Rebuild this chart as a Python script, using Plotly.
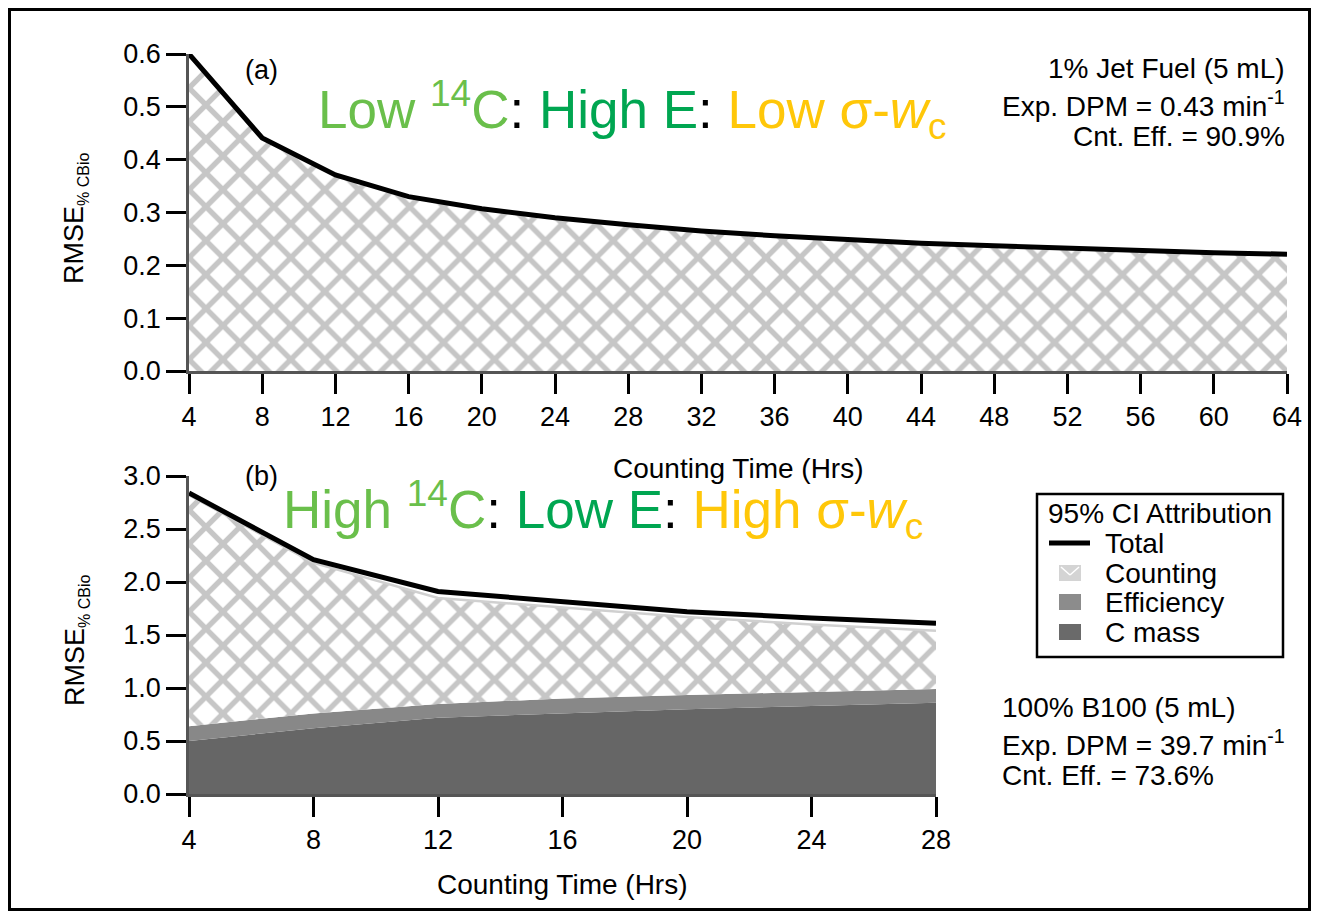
import plotly.graph_objects as go

# ---------------- data ----------------
hours_a = [4, 8, 12, 16, 20, 24, 28, 32, 36, 40, 44, 48, 52, 56, 60, 64]
total_a = [0.600, 0.441, 0.371, 0.330, 0.307, 0.290, 0.277, 0.265, 0.256, 0.248,
           0.242, 0.237, 0.232, 0.228, 0.224, 0.221]
counting_a = [0.598, 0.439, 0.369, 0.328, 0.305, 0.288, 0.275, 0.263, 0.254, 0.246,
              0.240, 0.235, 0.230, 0.226, 0.222, 0.219]

hours_b = [4, 8, 12, 16, 20, 24, 28]
total_b = [2.84, 2.21, 1.91, 1.81, 1.72, 1.66, 1.61]
cmass_b = [0.50, 0.62, 0.72, 0.76, 0.80, 0.83, 0.86]
efficiency_b = [0.14, 0.14, 0.13, 0.14, 0.135, 0.135, 0.13]
counting_b = [2.18, 1.42, 1.00, 0.86, 0.735, 0.635, 0.55]

xticks_a = list(range(4, 65, 4))
xticks_b = list(range(4, 29, 4))
yticks_a = [0.0, 0.1, 0.2, 0.3, 0.4, 0.5, 0.6]
yticks_b = [0.0, 0.5, 1.0, 1.5, 2.0, 2.5, 3.0]

legend_title = "95% CI Attribution"
legend_names = ["Total", "Counting", "Efficiency", "C mass"]

# ---------------- layout helpers ----------------
# the page body has an 8 px margin, so the figure is drawn 8 px in from the window
OFF = 8
W, H = 1319 - OFF, 913 - OFF
def px(x):
    return (x - OFF) / W
def py(y):
    return 1 - (y - OFF) / H

FONT = "Liberation Sans, Arial, Helvetica, sans-serif"
HATCH = dict(shape="x", fgcolor="#c6c6c6", bgcolor="white", size=24, solidity=0.4)
C_EFF = "#888888"
C_MASS = "#666666"

fig = go.Figure()

# panel (a)
fig.add_trace(go.Scatter(x=hours_a, y=counting_a, mode="lines", fill="tozeroy",
                         line=dict(width=0, color="#c8c8c8"), fillcolor="white",
                         fillpattern=HATCH, showlegend=False, hoverinfo="skip",
                         xaxis="x", yaxis="y"))
fig.add_trace(go.Scatter(x=hours_a, y=total_a, mode="lines",
                         line=dict(width=5, color="black"), showlegend=False,
                         xaxis="x", yaxis="y"))

# panel (b)
fig.add_trace(go.Scatter(x=hours_b, y=cmass_b, mode="lines", stackgroup="b",
                         line=dict(width=0, color=C_MASS), fillcolor=C_MASS,
                         name=legend_names[3], showlegend=False, xaxis="x2", yaxis="y2"))
fig.add_trace(go.Scatter(x=hours_b, y=efficiency_b, mode="lines", stackgroup="b",
                         line=dict(width=0, color=C_EFF), fillcolor=C_EFF,
                         name=legend_names[2], showlegend=False, xaxis="x2", yaxis="y2"))
fig.add_trace(go.Scatter(x=hours_b, y=counting_b, mode="lines", stackgroup="b",
                         line=dict(width=2.5, color="#d0d0d0"), fillcolor="white",
                         fillpattern=HATCH, name=legend_names[1], showlegend=False,
                         xaxis="x2", yaxis="y2"))
fig.add_trace(go.Scatter(x=hours_b, y=total_b, mode="lines",
                         line=dict(width=5, color="black"), name=legend_names[0],
                         showlegend=False, xaxis="x2", yaxis="y2"))

axis_common = dict(showgrid=False, zeroline=False, showline=True, linecolor="#555555",
                   linewidth=2.5, ticks="outside", ticklen=20, tickwidth=2.5,
                   tickcolor="black", automargin=False,
                   tickfont=dict(family=FONT, size=27, color="black"))

fig.update_layout(
    template="none",
    width=W, height=H,
    margin=dict(l=0, r=0, t=0, b=0, pad=0, autoexpand=False),
    paper_bgcolor="white", plot_bgcolor="white",
    showlegend=False,
    font=dict(family=FONT, color="black"),
    xaxis=dict(domain=[px(189), px(1287)], range=[4, 64], tickvals=xticks_a,
               anchor="y", **axis_common),
    yaxis=dict(domain=[py(371), py(54)], range=[0, 0.6], tickvals=yticks_a,
               tickformat=".1f", anchor="x", **axis_common),
    xaxis2=dict(domain=[px(189), px(936)], range=[4, 28], tickvals=xticks_b,
                anchor="y2", **axis_common),
    yaxis2=dict(domain=[py(794), py(476)], range=[0, 3.0], tickvals=yticks_b,
                tickformat=".1f", anchor="x2", **axis_common),
)

ann = []
def text(x, y, t, size=27, xanchor="center", yanchor="middle", angle=0, color="black"):
    ann.append(dict(x=px(x), y=py(y), xref="paper", yref="paper", text=t,
                    showarrow=False, xanchor=xanchor, yanchor=yanchor, textangle=angle,
                    font=dict(family=FONT, size=size, color=color)))

# axis titles
text(738, 468, "Counting Time (Hrs)", 28)
text(562, 884, "Counting Time (Hrs)", 28)
ytitle = "RMSE<sub><span style='font-size:16px'>% CBio</span></sub>"
text(76, 219, ytitle, 27, angle=-90)
text(76, 641, ytitle, 27, angle=-90)

# panel labels
text(262, 70, "(a)", 27)
text(262, 476, "(b)", 27)

G1, G2, Y = "#6abf4b", "#00a651", "#ffc709"
big_a = (f"<span style='color:{G1}'>Low <sup>14</sup>C</span>: "
         f"<span style='color:{G2}'>High E</span>: "
         f"<span style='color:{Y}'>Low σ-<i>w</i><sub>c</sub></span>")
big_b = (f"<span style='color:{G1}'>High <sup>14</sup>C</span>: "
         f"<span style='color:{G2}'>Low E</span>: "
         f"<span style='color:{Y}'>High σ-<i>w</i><sub>c</sub></span>")
text(316, 110, big_a, 53, xanchor="left")
text(281, 510, big_b, 53, xanchor="left")

# sample info
text(1287, 68, "1% Jet Fuel (5 mL)", 28, xanchor="right")
text(1287, 104, "Exp. DPM = 0.43 min<sup>-1</sup>", 28, xanchor="right")
text(1287, 136, "Cnt. Eff. = 90.9%", 28, xanchor="right")
text(1000, 707, "100% B100 (5 mL)", 28, xanchor="left")
text(1000, 743, "Exp. DPM = 39.7 min<sup>-1</sup>", 28, xanchor="left")
text(1000, 775, "Cnt. Eff. = 73.6%", 28, xanchor="left")

# manual legend
text(1046, 513, legend_title, 28, xanchor="left")
rows = [543, 573, 602, 632]
for name, yy in zip(legend_names, rows):
    text(1103, yy, name, 28, xanchor="left")

shapes = []
def rect(x0, y0, x1, y1, fill=None, lc="black", lw=0):
    shapes.append(dict(type="rect", xref="paper", yref="paper", x0=px(x0), x1=px(x1),
                       y0=py(y1), y1=py(y0), fillcolor=fill or "rgba(0,0,0,0)",
                       line=dict(color=lc, width=lw), layer="above"))
def line(x0, y0, x1, y1, color, w):
    shapes.append(dict(type="line", xref="paper", yref="paper", x0=px(x0), x1=px(x1),
                       y0=py(y0), y1=py(y1), line=dict(color=color, width=w), layer="above"))

rect(1037, 494, 1283, 657, lc="black", lw=2.5)
line(1049, rows[0], 1090, rows[0], "black", 5)
rect(1059, rows[1] - 8, 1081, rows[1] + 8, fill="#d4d4d4", lc="#d4d4d4", lw=0)
line(1061, rows[1] - 6, 1070, rows[1] + 2, "white", 1.5)
line(1079, rows[1] - 6, 1070, rows[1] + 2, "white", 1.5)
rect(1059, rows[2] - 8, 1081, rows[2] + 8, fill="#8c8c8c", lc="#8c8c8c", lw=0)
rect(1059, rows[3] - 8, 1081, rows[3] + 8, fill="#6a6a6a", lc="#6a6a6a", lw=0)

# outer frame
rect(9.5, 9.5, 1309.5, 909.5, lc="black", lw=3)

fig.update_layout(annotations=ann, shapes=shapes)
fig.write_html("out.html")
